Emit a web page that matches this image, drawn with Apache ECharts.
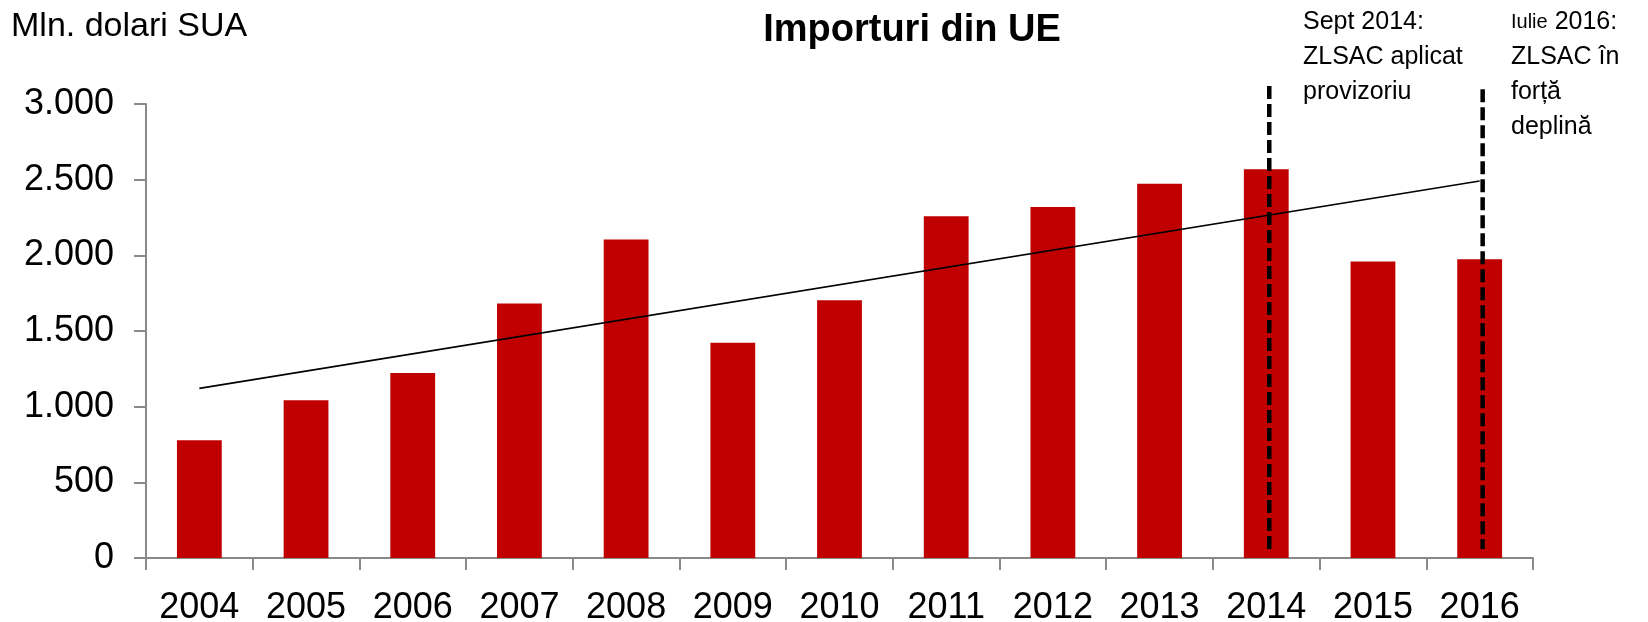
<!DOCTYPE html>
<html>
<head>
<meta charset="utf-8">
<script src="https://cdn.jsdelivr.net/npm/echarts@6/dist/echarts.min.js"></script>
<style>
html,body{margin:0;padding:0;background:#fff;}
#chart{width:1648px;height:622px;}
</style>
</head>
<body>
<div id="chart"></div>
<script>
// ---- data ----
var years = ['2004','2005','2006','2007','2008','2009','2010','2011','2012','2013','2014','2015','2016'];
var imports = [778, 1043, 1222, 1682, 2105, 1423, 1703, 2258, 2320, 2473, 2569, 1960, 1974];
// linear trendline as drawn (values at first and last year)
var trend = [1121, null, null, null, null, null, null, null, null, null, null, null, 2491];
// vertical dashed event markers: [year, top value, bottom value]
var events = [['2014', 3119, 60], ['2016', 3097, 60]];
var yTicks = [0, 500, 1000, 1500, 2000, 2500, 3000];

var FONT = 'Liberation Sans';
var chart = echarts.init(document.getElementById('chart'), null, {renderer: 'canvas'});

function fmt(v){ return String(v).replace(/\B(?=(\d{3})+(?!\d))/g, '.'); }

var option = {
  animation: false,
  backgroundColor: '#ffffff',
  textStyle: {fontFamily: FONT},
  grid: {left: 146, right: 115, top: 104, bottom: 64, containLabel: false, outerBoundsMode: 'none'},
  xAxis: {
    type: 'category',
    data: years,
    boundaryGap: true,
    axisLine: {lineStyle: {color: '#898989', width: 2}},
    axisTick: {show: true, length: 12, lineStyle: {color: '#898989', width: 2}},
    axisLabel: {color: '#000', fontSize: 36, fontFamily: FONT, margin: 32, interval: 0},
    splitLine: {show: false}
  },
  yAxis: {
    type: 'value',
    min: yTicks[0],
    max: yTicks[yTicks.length - 1],
    interval: yTicks[1] - yTicks[0],
    axisLine: {show: true, lineStyle: {color: '#898989', width: 2}},
    axisTick: {show: true, length: 12, lineStyle: {color: '#898989', width: 2}},
    axisLabel: {color: '#000', fontSize: 36, fontFamily: FONT, margin: 32, formatter: fmt},
    splitLine: {show: false}
  },
  series: [
    {
      type: 'bar',
      data: imports,
      barWidth: '42%',
      itemStyle: {color: '#C00000'},
      z: 2
    },
    {
      type: 'line',
      data: trend,
      connectNulls: true,
      showSymbol: false,
      symbol: 'none',
      lineStyle: {color: '#000', width: 1.6},
      z: 3
    },
    {
      type: 'custom',
      data: events,
      encode: {x: 0, y: [1, 2]},
      clip: false,
      z: 4,
      renderItem: function (params, api) {
        var top = api.coord([api.value(0), api.value(1)]);
        var bot = api.coord([api.value(0), api.value(2)]);
        return {
          type: 'line',
          shape: {x1: top[0] + 3, y1: top[1], x2: bot[0] + 3, y2: bot[1]},
          style: {stroke: '#000', lineWidth: 4.5, lineDash: [13, 5]}
        };
      }
    }
  ],
  graphic: [
    {
      type: 'text', left: 11, top: 10,
      style: {text: 'Mln. dolari SUA', font: '34px "Liberation Sans"', fill: '#000'}
    },
    {
      type: 'text', x: 912, y: 31,
      style: {text: 'Importuri din UE', font: 'bold 38px "Liberation Sans"', fill: '#000', align: 'center', verticalAlign: 'middle'}
    },
    {
      type: 'text', x: 1303, y: 5,
      style: {
        text: 'Sept 2014:\nZLSAC aplicat\nprovizoriu',
        font: '25px "Liberation Sans"', lineHeight: 35, fill: '#000', align: 'left', verticalAlign: 'top'
      }
    },
    {
      type: 'text', x: 1511, y: 5,
      style: {
        text: '{s|Iulie} 2016:\nZLSAC în\nforță\ndeplină',
        font: '25px "Liberation Sans"', lineHeight: 35, fill: '#000', align: 'left', verticalAlign: 'top',
        rich: {s: {fontSize: 20, fontFamily: FONT, fill: '#000', lineHeight: 35}}
      }
    }
  ]
};
chart.setOption(option);
</script>
</body>
</html>
